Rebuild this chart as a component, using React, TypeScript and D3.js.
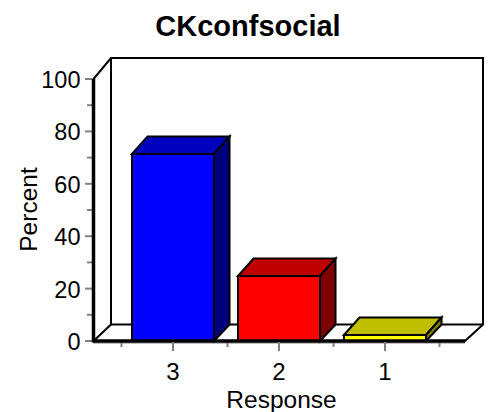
import React from "react";
import * as d3 from "d3";

const title = "CKconfsocial";
const xTitle = "Response";
const yTitle = "Percent";
const categories = ["3", "2", "1"];
const values = [71.4, 24.8, 2.3];
const frontColors = ["#0000ff", "#ff0000", "#ffff00"];
const topColors = ["#0000bf", "#bf0000", "#bfbf00"];
const sideColors = ["#00007f", "#7f0000", "#7f7f00"];
const majorTicks = [0, 20, 40, 60, 80, 100];
const minorTicks = [10, 30, 50, 70, 90];

const W = 490, H = 412;
const FONT = "'Liberation Sans', Arial, sans-serif";
const y = d3.scaleLinear().domain([0, 100]).range([341, 79]);
const yBack = d3.scaleLinear().domain([0, 100]).range([324.5, 58]);
const yBarBack = d3.scaleLinear().domain([0, 100]).range([323.5, 61.5]);
const x = d3.scaleBand<string>().domain(categories).range([120, 438]).paddingInner(0.226).paddingOuter(0.113);
const dx = 15.5;
const wallL = 111, wallR = 483, frontL = 93.5, frontR = 465;
const edgePositions = [0, 1, 2, 3].map((i) => 121.5 + i * x.step());
const poly = d3.line();

export default function App() {
  return (
    <svg width={W} height={H} style={{ position: "absolute", left: 0, top: 0, background: "#fff" }}>
      <text x={248} y={36} textAnchor="middle" fontFamily={FONT} fontWeight="bold" fontSize={29}>{title}</text>
      <path d={poly([[frontL, y(100)], [wallL, yBack(100)], [wallR, yBack(100)], [wallR, yBack(0)], [frontR, y(0)], [frontL, y(0)], [wallL, yBack(0)], [wallL, yBack(100)]])!} fill="none" stroke="#000" strokeWidth={2} />
      <path d={poly([[wallL, yBack(0)], [wallR, yBack(0)]])!} stroke="#000" strokeWidth={2} />
      {majorTicks.map((t) => (
        <g key={t}>
          <line x1={85} x2={93} y1={y(t)} y2={y(t)} stroke="#808080" strokeWidth={2} />
          <text x={80.5} y={y(t) + 9} textAnchor="end" fontFamily={FONT} fontSize={23.5}>{t}</text>
        </g>
      ))}
      {minorTicks.map((t) => (
        <line key={t} x1={87} x2={93} y1={y(t)} y2={y(t)} stroke="#808080" strokeWidth={2} />
      ))}
      {edgePositions.map((p) => (
        <line key={p} x1={p} x2={p} y1={342} y2={347} stroke="#808080" strokeWidth={2} />
      ))}
      <line x1={93} x2={frontR} y1={343} y2={343} stroke="#808080" strokeWidth={1} />
      {categories.map((c, i) => {
        const l = x(c)!, r = l + x.bandwidth();
        const v = values[i];
        return (
          <g key={c} stroke="#000" strokeWidth={2} strokeLinejoin="miter">
            <path d={poly([[l, y(v)], [l + dx, yBarBack(v)], [r + dx, yBarBack(v)], [r, y(v)]])! + "Z"} fill={topColors[i]} />
            <path d={poly([[r, y(v)], [r + dx, yBarBack(v)], [r + dx, yBack(0)], [r, y(0)]])! + "Z"} fill={sideColors[i]} />
            <rect x={l} y={y(v)} width={x.bandwidth()} height={y(0) - y(v)} fill={frontColors[i]} />
          </g>
        );
      })}
      <line x1={frontL} x2={frontL} y1={y(100)} y2={y(0) + 1.5} stroke="#000" strokeWidth={3.5} />
      <line x1={frontL} x2={frontR} y1={y(0)} y2={y(0)} stroke="#000" strokeWidth={3.5} />
      {categories.map((c) => (
        <g key={c}>
          <line x1={x(c)! + x.bandwidth() / 2} x2={x(c)! + x.bandwidth() / 2} y1={342} y2={351} stroke="#808080" strokeWidth={2} />
          <text x={x(c)! + x.bandwidth() / 2} y={380} textAnchor="middle" fontFamily={FONT} fontSize={24}>{c}</text>
        </g>
      ))}
      <text x={281.5} y={408} textAnchor="middle" fontFamily={FONT} fontSize={24.5}>{xTitle}</text>
      <text transform="translate(37,209.5) rotate(-90)" textAnchor="middle" fontFamily={FONT} fontSize={24.5}>{yTitle}</text>
    </svg>
  );
}
